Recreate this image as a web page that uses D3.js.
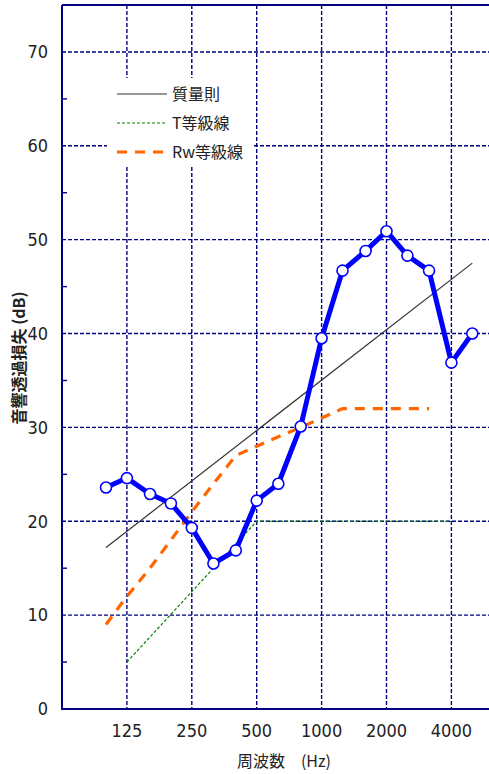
<!DOCTYPE html>
<html>
<head>
<meta charset="utf-8">
<script src="https://cdn.jsdelivr.net/npm/d3@7"></script>
<style>
  body { margin: 0; background: #fff; }
  svg { display: block; }
  .num { font-family: "Liberation Sans Narrow", "DejaVu Sans Condensed", "Liberation Sans", sans-serif; font-size: 18px; fill: #222; }
  .jp { font-family: "Noto Sans CJK JP", sans-serif; fill: #222; }
</style>
</head>
<body>
<svg id="chart"></svg>
<script>
// 1/3オクターブ帯域の中心周波数
const freqs = [100, 125, 160, 200, 250, 315, 400, 500, 630, 800, 1000, 1250, 1600, 2000, 2500, 3150, 4000, 5000];
// 音響透過損失 実測値 (dB)
const tlValues = [23.6, 24.6, 22.9, 21.9, 19.3, 15.5, 16.9, 22.2, 24.0, 30.1, 39.5, 46.7, 48.8, 50.9, 48.3, 46.7, 36.9, 40.0];
// 質量則
const massLaw = [[100, 17.2], [5000, 47.5]];
// T等級線
const tGrade = [[125, 5], [250, 12.5], [500, 20], [4000, 20]];
// Rw等級線
const rwFreqs = [100, 125, 160, 200, 250, 315, 400, 500, 630, 800, 1000, 1250, 1600, 2000, 2500, 3150];
const rwValues = [9, 12, 15, 18, 21, 24, 27, 28, 29, 30, 31, 32, 32, 32, 32, 32];

const xTicks = [125, 250, 500, 1000, 2000, 4000];
const yTicks = [0, 10, 20, 30, 40, 50, 60, 70];
const yMinor = [5, 15, 25, 35, 45, 55, 65];

const W = 489, H = 774;
const mLeft = 62, mTop = 5, mBottom = 709;
const octave = 64.9;

const svg = d3.select("#chart").attr("width", W).attr("height", H);

const x = d3.scaleLog([62.5, 8000], [mLeft, mLeft + 7 * octave]);
const y = d3.scaleLinear([0, 75], [mBottom, mTop]);

const navy = "#000080";

svg.append("clipPath").attr("id", "plot")
  .append("rect").attr("x", mLeft).attr("y", mTop)
  .attr("width", W - mLeft).attr("height", mBottom - mTop);

// グリッド
const grid = svg.append("g").attr("clip-path", "url(#plot)");
grid.selectAll(".hg").data(yTicks.filter(d => d > 0)).join("line")
  .attr("x1", mLeft).attr("x2", W + 10)
  .attr("y1", d => y(d)).attr("y2", d => y(d))
  .attr("stroke", navy).attr("stroke-width", 1.4).attr("stroke-dasharray", "4,2");
grid.selectAll(".vg").data(xTicks).join("line")
  .attr("x1", d => x(d)).attr("x2", d => x(d))
  .attr("y1", mTop).attr("y2", mBottom)
  .attr("stroke", navy).attr("stroke-width", 1.4).attr("stroke-dasharray", "4,2");

// 凡例の背景
svg.append("rect").attr("x", 107).attr("y", 78).attr("width", 146).attr("height", 87).attr("fill", "#fff");

// 軸
svg.append("line").attr("x1", mLeft).attr("x2", W).attr("y1", mTop).attr("y2", mTop)
  .attr("stroke", navy).attr("stroke-width", 2);
svg.append("line").attr("x1", mLeft).attr("x2", W).attr("y1", mBottom).attr("y2", mBottom)
  .attr("stroke", navy).attr("stroke-width", 2);
svg.append("line").attr("x1", mLeft).attr("x2", mLeft).attr("y1", mTop).attr("y2", mBottom + 1)
  .attr("stroke", navy).attr("stroke-width", 2);
svg.selectAll(".mt").data(yMinor).join("line")
  .attr("x1", mLeft).attr("x2", mLeft + 5)
  .attr("y1", d => y(d)).attr("y2", d => y(d))
  .attr("stroke", navy).attr("stroke-width", 1.4);

svg.selectAll(".yl").data(yTicks).join("text").attr("class", "num")
  .attr("x", 48).attr("y", d => y(d)).attr("dy", "0.35em")
  .attr("text-anchor", "end").text(d => d);
svg.selectAll(".xl").data(xTicks).join("text").attr("class", "num")
  .attr("x", d => x(d)).attr("y", 731).attr("dy", "0.35em")
  .attr("text-anchor", "middle").text(d => d);

svg.append("text").attr("class", "jp")
  .attr("x", 284).attr("y", 761).attr("dy", "0.35em")
  .attr("text-anchor", "middle").attr("font-size", 16)
  .text("周波数　(Hz)");
svg.append("text").attr("class", "jp")
  .attr("transform", "translate(19,358) rotate(-90)")
  .attr("dy", "0.35em").attr("text-anchor", "middle")
  .attr("font-size", 16).attr("font-weight", "bold")
  .text("音響透過損失 (dB)");

const line = d3.line().x(d => x(d[0])).y(d => y(d[1]));
const plot = svg.append("g").attr("clip-path", "url(#plot)");

plot.append("path").datum(massLaw).attr("d", line)
  .attr("fill", "none").attr("stroke", "#333").attr("stroke-width", 1.2);
plot.append("path").datum(tGrade).attr("d", line)
  .attr("fill", "none").attr("stroke", "#008000").attr("stroke-width", 1.2).attr("stroke-dasharray", "3,2");
plot.append("path").datum(rwFreqs.map((f, i) => [f, rwValues[i]])).attr("d", line)
  .attr("fill", "none").attr("stroke", "#ff6600").attr("stroke-width", 3.2).attr("stroke-dasharray", "10,8");

const tl = freqs.map((f, i) => [f, tlValues[i]]);
plot.append("path").datum(tl).attr("d", line)
  .attr("fill", "none").attr("stroke", "#0000ff").attr("stroke-width", 5).attr("stroke-linejoin", "round");
plot.selectAll(".pt").data(tl).join("circle")
  .attr("cx", d => x(d[0])).attr("cy", d => y(d[1])).attr("r", 5.5)
  .attr("fill", "#fff").attr("stroke", "#0000ff").attr("stroke-width", 1.6);

// 凡例
const legend = [
  { label: "質量則", color: "#333", width: 1.2, dash: null },
  { label: "T等級線", color: "#008000", width: 1.2, dash: "3,2" },
  { label: "Rw等級線", color: "#ff6600", width: 3.2, dash: "10,8" }
];
legend.forEach((d, i) => {
  const ly = 94 + i * 29;
  svg.append("line").attr("x1", 117).attr("x2", 167).attr("y1", ly).attr("y2", ly)
    .attr("stroke", d.color).attr("stroke-width", d.width)
    .attr("stroke-dasharray", d.dash);
  svg.append("text").attr("class", "jp").attr("x", 172).attr("y", ly).attr("dy", "0.35em")
    .attr("font-size", 16).text(d.label);
});
</script>
</body>
</html>
